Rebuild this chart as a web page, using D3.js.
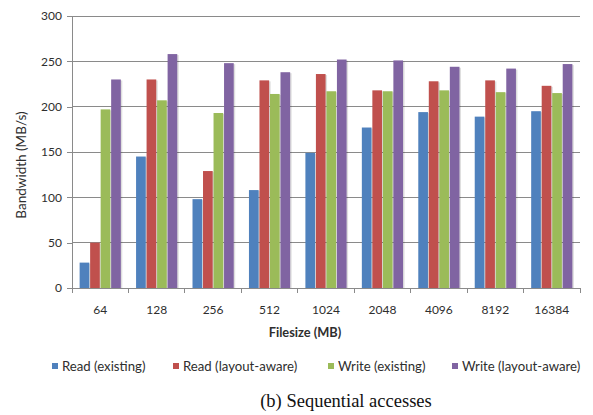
<!DOCTYPE html>
<html>
<head>
<meta charset="utf-8">
<script src="https://cdn.jsdelivr.net/npm/d3@7"></script>
<style>
  html, body { margin: 0; padding: 0; background: #fff; }
  svg { display: block; }
</style>
</head>
<body>
<div id="chart"></div>
<script>
// Data
const fileSizes = ["64", "128", "256", "512", "1024", "2048", "4096", "8192", "16384"];
const seriesNames = ["Read (existing)", "Read (layout-aware)", "Write (existing)", "Write (layout-aware)"];
const readExisting = [28, 145, 98, 108, 149, 177, 194, 189, 195];
const readLayoutAware = [50, 230, 129, 229, 236, 218, 228, 229, 223];
const writeExisting = [197, 207, 193, 214, 217, 217, 218, 216, 215];
const writeLayoutAware = [230, 258, 248, 238, 252, 251, 244, 242, 247];
const yTicks = [0, 50, 100, 150, 200, 250, 300];

const seriesValues = [readExisting, readLayoutAware, writeExisting, writeLayoutAware];
const colors = ["#4f81bd", "#c0504d", "#9bbb59", "#8064a2"];

const W = 593, H = 415;
const margin = { top: 16, right: 13, bottom: 127, left: 72 };
const innerW = W - margin.left - margin.right;
const innerH = H - margin.top - margin.bottom;
const font = "Lato, 'Open Sans', sans-serif";
const textColor = "#2e2e2e";
const gridColor = "#8a8a8a";

const svg = d3.select("#chart").append("svg")
    .attr("width", W)
    .attr("height", H);

const g = svg.append("g")
    .attr("transform", `translate(${margin.left},${margin.top})`);

// Scales
const x0 = d3.scaleBand()
    .domain(fileSizes)
    .range([0, innerW])
    .paddingInner(0.27)
    .paddingOuter(0.135);

const x1 = d3.scaleBand()
    .domain(d3.range(seriesNames.length))
    .range([0, x0.bandwidth()])
    .paddingInner(0.08);

const y = d3.scaleLinear()
    .domain([0, 300])
    .range([innerH, 0]);

// Gridlines
g.append("g")
    .selectAll("line")
    .data(yTicks.filter(d => d > 0))
    .join("line")
    .attr("x1", 0)
    .attr("x2", innerW)
    .attr("y1", d => y(d))
    .attr("y2", d => y(d))
    .attr("stroke", gridColor)
    .attr("stroke-width", 1)
    .attr("shape-rendering", "crispEdges");

// Bars (with a faint Excel-style shadow)
const groups = g.append("g")
    .selectAll("g")
    .data(fileSizes)
    .join("g")
    .attr("transform", d => `translate(${x0(d)},0)`);

const barData = (d, i) => seriesValues.map((vals, k) => ({ k, v: vals[i] }));

groups.each(function (d, i) {
    const grp = d3.select(this);
    const data = barData(d, i);
    grp.selectAll("rect.shadow")
        .data(data)
        .join("rect")
        .attr("class", "shadow")
        .attr("x", b => x1(b.k) + 1.5)
        .attr("y", b => y(b.v) + 1)
        .attr("width", x1.bandwidth())
        .attr("height", b => innerH - y(b.v) - 1)
        .attr("fill", "#000")
        .attr("opacity", 0.13);
    grp.selectAll("rect.bar")
        .data(data)
        .join("rect")
        .attr("class", "bar")
        .attr("x", b => x1(b.k))
        .attr("y", b => y(b.v))
        .attr("width", x1.bandwidth())
        .attr("height", b => innerH - y(b.v))
        .attr("fill", b => colors[b.k]);
});

// Y axis
const yAxis = g.append("g")
    .call(d3.axisLeft(y).tickValues(yTicks).tickSize(5).tickPadding(5));
yAxis.select(".domain").attr("stroke", gridColor).attr("shape-rendering", "crispEdges");
yAxis.selectAll(".tick line").attr("stroke", gridColor).attr("shape-rendering", "crispEdges");
yAxis.selectAll("text")
    .attr("fill", textColor)
    .style("font-family", font)
    .style("font-size", "12px");

// X axis: boundary ticks + centred category labels
const xAxis = g.append("g").attr("transform", `translate(0,${innerH})`);
xAxis.append("line")
    .attr("x1", 0).attr("x2", innerW)
    .attr("stroke", gridColor)
    .attr("shape-rendering", "crispEdges");
const step = x0.step();
xAxis.selectAll("line.tick")
    .data(d3.range(fileSizes.length + 1))
    .join("line")
    .attr("class", "tick")
    .attr("x1", i => i * step)
    .attr("x2", i => i * step)
    .attr("y1", 0)
    .attr("y2", 5)
    .attr("stroke", gridColor)
    .attr("shape-rendering", "crispEdges");
xAxis.selectAll("text")
    .data(fileSizes)
    .join("text")
    .attr("x", d => x0(d) + x0.bandwidth() / 2)
    .attr("y", 22)
    .attr("dy", "0.35em")
    .attr("text-anchor", "middle")
    .attr("fill", textColor)
    .style("font-family", font)
    .style("font-size", "12px")
    .text(d => d);

// Axis titles
svg.append("text")
    .attr("transform", `translate(21,165) rotate(-90)`)
    .attr("text-anchor", "middle")
    .attr("dy", "0.35em")
    .attr("fill", textColor)
    .style("font-family", font)
    .style("font-size", "13.5px")
    .text("Bandwidth (MB/s)");

svg.append("text")
    .attr("x", 305)
    .attr("y", 333)
    .attr("dy", "0.35em")
    .attr("text-anchor", "middle")
    .attr("fill", textColor)
    .style("font-family", font)
    .style("font-size", "12.8px")
    .style("font-weight", "bold")
    .text("Filesize (MB)");

// Legend
const legendStarts = [52, 173, 328, 452];
const legend = svg.append("g").attr("transform", "translate(0,366)");
seriesNames.forEach((name, k) => {
    legend.append("rect")
        .attr("x", legendStarts[k])
        .attr("y", -3)
        .attr("width", 6)
        .attr("height", 6)
        .attr("fill", colors[k]);
    legend.append("text")
        .attr("x", legendStarts[k] + 10)
        .attr("y", 0)
        .attr("dy", "0.35em")
        .attr("fill", textColor)
        .style("font-family", font)
        .style("font-size", "13.2px")
        .text(name);
});

// Caption
svg.append("text")
    .attr("x", 346)
    .attr("y", 407)
    .attr("text-anchor", "middle")
    .attr("fill", "#111")
    .style("font-family", "'Liberation Serif', 'Times New Roman', serif")
    .style("font-size", "18.5px")
    .text("(b) Sequential accesses");
</script>
</body>
</html>
